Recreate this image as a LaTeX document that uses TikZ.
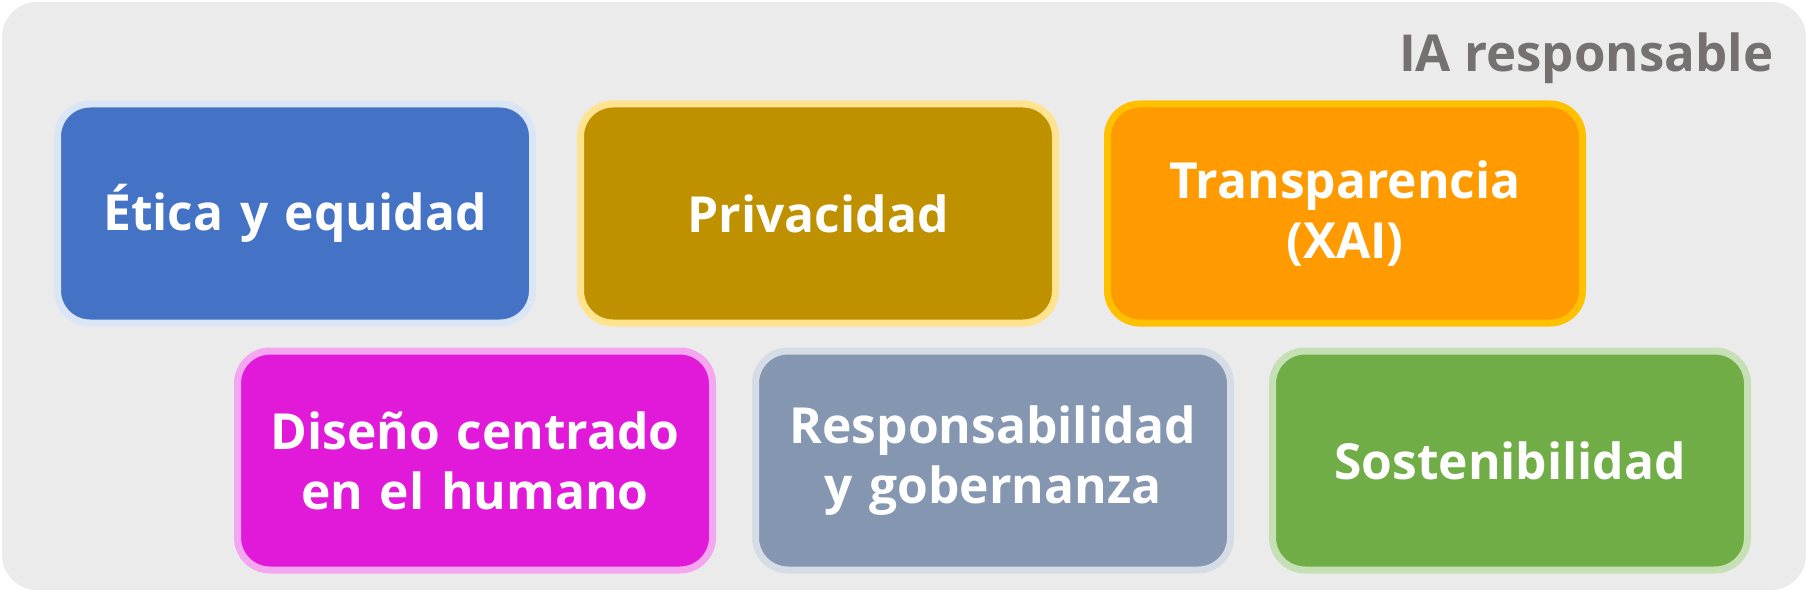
\documentclass[tikz,border=0pt]{standalone}
\usepackage{fontspec}
\setmainfont{Open Sans}
\usetikzlibrary{positioning}
\definecolor{panelGray}{HTML}{EBEBEB}
\definecolor{titleGray}{HTML}{767171}
\definecolor{eticaFill}{HTML}{4472C4}
\definecolor{eticaEdge}{HTML}{DAE6F6}
\definecolor{privFill}{HTML}{BF9000}
\definecolor{privEdge}{HTML}{FFE38F}
\definecolor{transFill}{HTML}{FF9A00}
\definecolor{transEdge}{HTML}{FFC000}
\definecolor{disenoFill}{HTML}{E01AD8}
\definecolor{disenoEdge}{HTML}{F4A6F0}
\definecolor{respFill}{HTML}{8496B0}
\definecolor{respEdge}{HTML}{D6DCE5}
\definecolor{sostFill}{HTML}{70AD47}
\definecolor{sostEdge}{HTML}{C5E0B4}

\begin{document}
\begin{tikzpicture}
% STYLES
\tikzset{%
    pillar/.style={%
rectangle,
rounded corners=0.65cm,
line width=0.14cm,
minimum width=9.5cm,
minimum height=4.38cm,
text width=9.1cm,
align=center,
text=white,
font=\bfseries\fontsize{28.3}{34}\selectfont
                          }
             }
% Draw panel
\useasboundingbox (0,0) rectangle (36.16,-11.84);
\fill[panelGray, rounded corners=0.7cm] (0.04,-0.04) rectangle (36.12,-11.8);
\node [anchor=base east, inner sep=0pt, text=titleGray, font=\bfseries\fontsize{29}{34}\selectfont] (title) at (35.47,-1.43) {IA responsable};

% Draw pillars
\node [pillar, fill=eticaFill, draw=eticaEdge] (etica) at (5.90,-4.27) {Ética y equidad};
\node [pillar, fill=privFill, draw=privEdge, right=0.82cm of etica] (privacidad) {Privacidad};
\node [pillar, fill=transFill, draw=transEdge, right=0.9cm of privacidad] (transparencia) {Transparencia\\(XAI)};
\node [pillar, fill=disenoFill, draw=disenoEdge, below=0.42cm of etica, xshift=3.6cm] (diseno) {Diseño centrado\\en el humano};
\node [pillar, fill=respFill, draw=respEdge, right=0.72cm of diseno] (responsabilidad) {Responsabilidad\\y gobernanza};
\node [pillar, fill=sostFill, draw=sostEdge, right=0.7cm of responsabilidad] (sostenibilidad) {Sostenibilidad};
\end{tikzpicture}
\end{document}
